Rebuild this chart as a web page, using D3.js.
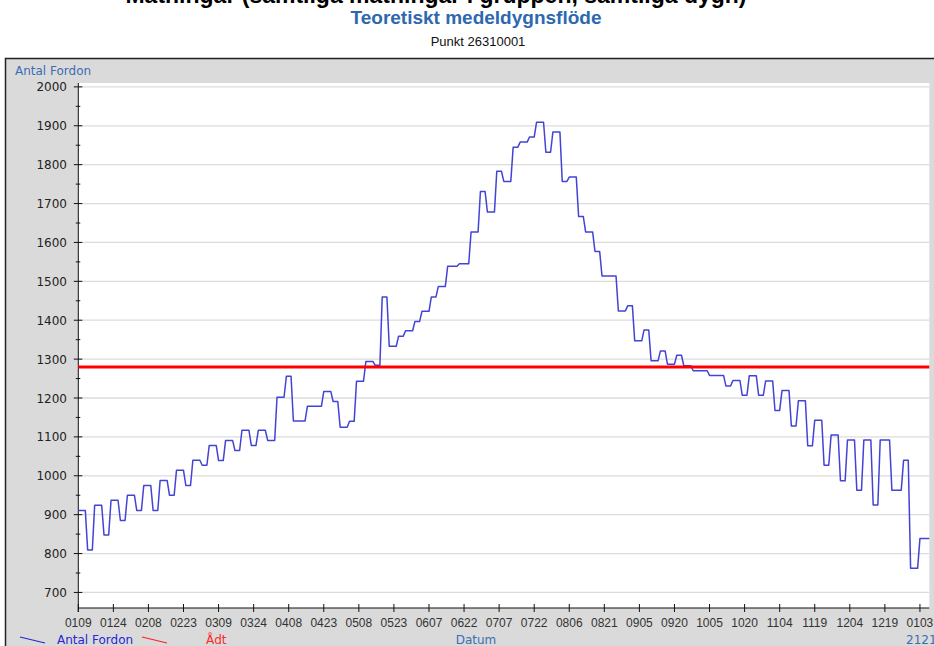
<!DOCTYPE html>
<html>
<head>
<meta charset="utf-8">
<script src="https://cdn.jsdelivr.net/npm/d3@7"></script>
<style>
  body { margin: 0; background: #fff; overflow: hidden; }
  svg { display: block; }
</style>
</head>
<body>
<svg id="chart" width="934" height="646"></svg>
<script>
// Antal Fordon per dygn, en array per månad (start 2020-01-09)
var jan = [911,911,911,911,809,809,809,924,924,924,924,848,848,848,937,937,937,937,885,885,885,950,950];
var feb = [950,950,911,911,911,975,975,975,975,911,911,911,988,988,988,988,950,950,950,1014,1014,1014,1014,975,975,975,1040,1040,1040];
var mar = [1040,1027,1027,1027,1078,1078,1078,1078,1039,1039,1039,1091,1091,1091,1091,1065,1065,1065,1117,1117,1117,1117,1078,1078,1078,1117,1117,1117,1117,1091,1091];
var apr = [1091,1091,1202,1202,1202,1202,1256,1256,1256,1141,1141,1141,1141,1141,1141,1179,1179,1179,1179,1179,1179,1179,1217,1217,1217,1217,1191,1191,1191,1125];
var may = [1125,1125,1125,1140,1140,1140,1243,1243,1243,1243,1294,1294,1294,1294,1284,1284,1284,1460,1460,1460,1333,1333,1333,1333,1359,1359,1359,1373,1373,1373,1373];
var jun = [1397,1397,1397,1423,1423,1423,1423,1460,1460,1460,1487,1487,1487,1487,1539,1539,1539,1539,1539,1545,1545,1545,1545,1545,1627,1627,1627,1627,1731,1731];
var jul = [1731,1678,1678,1678,1678,1783,1783,1783,1757,1757,1757,1757,1845,1845,1845,1858,1858,1858,1858,1871,1871,1871,1909,1909,1909,1909,1832,1832,1832,1884,1884];
var aug = [1884,1884,1757,1757,1757,1768,1768,1768,1768,1667,1667,1667,1627,1627,1627,1627,1577,1577,1577,1514,1514,1514,1514,1514,1514,1514,1424,1424,1424,1424,1437];
var sep = [1437,1437,1347,1347,1347,1347,1375,1375,1375,1296,1296,1296,1296,1321,1321,1321,1287,1287,1287,1287,1310,1310,1310,1283,1283,1283,1283,1270,1270,1270];
var oct = [1270,1270,1270,1270,1258,1258,1258,1258,1258,1258,1258,1231,1231,1231,1245,1245,1245,1245,1207,1207,1207,1257,1257,1257,1257,1207,1207,1207,1244,1244,1244];
var nov = [1244,1168,1168,1168,1219,1219,1219,1219,1128,1128,1128,1193,1193,1193,1193,1077,1077,1077,1143,1143,1143,1143,1027,1027,1027,1105,1105,1105,1105,987];
var dec = [987,987,1092,1092,1092,1092,963,963,963,1092,1092,1092,1092,925,925,925,1092,1092,1092,1092,1092,963,963,963,963,963,1040,1040,1040,762,762];
var jan21 = [762,762,839,839,839,839,839];

var adt = 1280; // Ådt
var tickDates = ["2020-01-09","2020-01-24","2020-02-08","2020-02-23","2020-03-09","2020-03-24",
  "2020-04-08","2020-04-23","2020-05-08","2020-05-23","2020-06-07","2020-06-22","2020-07-07",
  "2020-07-22","2020-08-06","2020-08-21","2020-09-05","2020-09-20","2020-10-05","2020-10-20",
  "2020-11-04","2020-11-19","2020-12-04","2020-12-19","2021-01-03"];
var yMajor = [700,800,900,1000,1100,1200,1300,1400,1500,1600,1700,1800,1900,2000];
var yMinor = [750,850,950,1050,1150,1250,1350,1450,1550,1650,1750,1850,1950];

var svg = d3.select("#chart");
var parse = d3.timeParse("%Y-%m-%d");
var start = parse("2020-01-09");

var values = d3.merge([jan, feb, mar, apr, may, jun, jul, aug, sep, oct, nov, dec, jan21]);
var series = values.map(function(v, i){ return {date: d3.timeDay.offset(start, i), value: v}; });

var pLeft = 78.3, pRight = 929.3, pTop = 83, pBottom = 608;

var x = d3.scaleTime()
    .domain([start, series[series.length - 1].date])
    .range([pLeft, pRight]);
var y = d3.scaleLinear()
    .domain([660, 2010])
    .range([pBottom, pTop]);

// rubrik ovanför (avklippt i originalet)
svg.append("text")
    .attr("x", 436).attr("y", 3)
    .attr("text-anchor", "middle")
    .style("font", "bold 23px 'Liberation Sans', Arial, sans-serif")
    .style("fill", "#000")
    .text("Mätningar (samtliga mätningar i gruppen, samtliga dygn)");

svg.append("text")
    .attr("x", 476).attr("y", 24)
    .attr("text-anchor", "middle")
    .style("font", "bold 19px 'Liberation Sans', Arial, sans-serif")
    .style("fill", "#2d68b0")
    .text("Teoretiskt medeldygnsflöde");

svg.append("text")
    .attr("x", 478).attr("y", 46)
    .attr("text-anchor", "middle")
    .style("font", "13px 'Liberation Sans', Arial, sans-serif")
    .style("fill", "#111")
    .text("Punkt 26310001");

// ram
svg.append("rect")
    .attr("x", 5.5).attr("y", 58.5)
    .attr("width", 960).attr("height", 620)
    .attr("fill", "#dadada")
    .attr("stroke", "#222")
    .attr("stroke-width", 1.5);

svg.append("rect")
    .attr("x", pLeft).attr("y", pTop)
    .attr("width", pRight - pLeft).attr("height", pBottom - pTop)
    .attr("fill", "#fff");

// rutnät
svg.append("g")
  .selectAll("line")
  .data(yMajor)
  .enter()
    .append("line")
    .attr("x1", pLeft).attr("x2", pRight)
    .attr("y1", function(d){ return y(d); })
    .attr("y2", function(d){ return y(d); })
    .attr("stroke", "#dcdcdc")
    .attr("stroke-width", 1.3);

svg.append("text")
    .attr("x", 15).attr("y", 75)
    .style("font", "12px 'DejaVu Sans', Verdana, sans-serif")
    .style("fill", "#3b6db3")
    .text("Antal Fordon");

// y-axel
var yAxis = svg.append("g");
yAxis.append("line")
    .attr("x1", pLeft).attr("x2", pLeft)
    .attr("y1", pTop).attr("y2", pBottom + 4)
    .attr("stroke", "#111");
yAxis.selectAll(".major")
  .data(yMajor)
  .enter()
    .append("line")
    .attr("x1", pLeft - 4.5).attr("x2", pLeft + 4)
    .attr("y1", function(d){ return y(d); })
    .attr("y2", function(d){ return y(d); })
    .attr("stroke", "#111");
yAxis.selectAll(".minor")
  .data(yMinor)
  .enter()
    .append("line")
    .attr("x1", pLeft - 2.5).attr("x2", pLeft + 2)
    .attr("y1", function(d){ return y(d); })
    .attr("y2", function(d){ return y(d); })
    .attr("stroke", "#111");
yAxis.selectAll("text")
  .data(yMajor)
  .enter()
    .append("text")
    .attr("x", 67)
    .attr("y", function(d){ return y(d) + 4.5; })
    .attr("text-anchor", "end")
    .style("font", "12px 'DejaVu Sans', Verdana, sans-serif")
    .style("fill", "#222")
    .text(function(d){ return d; });

// x-axel
var fmt = d3.timeFormat("%m%d");
var xAxis = svg.append("g");
xAxis.append("line")
    .attr("x1", pLeft).attr("x2", pRight)
    .attr("y1", pBottom).attr("y2", pBottom)
    .attr("stroke", "#111")
    .attr("stroke-width", 1.2);
xAxis.selectAll("line.tick")
  .data(tickDates.map(parse))
  .enter()
    .append("line")
    .attr("class", "tick")
    .attr("x1", function(d){ return x(d); })
    .attr("x2", function(d){ return x(d); })
    .attr("y1", pBottom - 4).attr("y2", pBottom + 4)
    .attr("stroke", "#111");
xAxis.selectAll("text")
  .data(tickDates.map(parse))
  .enter()
    .append("text")
    .attr("x", function(d){ return x(d); })
    .attr("y", 627)
    .attr("text-anchor", "middle")
    .style("font", "12px 'Liberation Sans', Arial, sans-serif")
    .style("fill", "#333")
    .text(function(d){ return fmt(d); });

// kurvan
var line = d3.line()
    .x(function(d){ return x(d.date); })
    .y(function(d){ return y(d.value); });
svg.append("path")
    .datum(series)
    .attr("d", line)
    .attr("fill", "none")
    .attr("stroke", "#4343d6")
    .attr("stroke-width", 1.5)
    .attr("stroke-linejoin", "round");

// Ådt
svg.append("line")
    .attr("x1", pLeft).attr("x2", pRight)
    .attr("y1", y(adt)).attr("y2", y(adt))
    .attr("stroke", "#ff0000")
    .attr("stroke-width", 3);

// förklaring
svg.append("line")
    .attr("x1", 20).attr("y1", 637).attr("x2", 45).attr("y2", 643)
    .attr("stroke", "#2424d8").attr("stroke-width", 1.2);
svg.append("text")
    .attr("x", 57).attr("y", 644)
    .style("font", "12px 'DejaVu Sans', Verdana, sans-serif")
    .style("fill", "#2626d6")
    .text("Antal Fordon");
svg.append("line")
    .attr("x1", 142).attr("y1", 637).attr("x2", 167).attr("y2", 643)
    .attr("stroke", "#ff2020").attr("stroke-width", 1.2);
svg.append("text")
    .attr("x", 206).attr("y", 644)
    .style("font", "12px 'DejaVu Sans', Verdana, sans-serif")
    .style("fill", "#ff2a2a")
    .text("Ådt");
svg.append("text")
    .attr("x", 476).attr("y", 644)
    .attr("text-anchor", "middle")
    .style("font", "12px 'DejaVu Sans', Verdana, sans-serif")
    .style("fill", "#3b6db3")
    .text("Datum");
svg.append("text")
    .attr("x", 906).attr("y", 644)
    .style("font", "12px 'DejaVu Sans', Verdana, sans-serif")
    .style("fill", "#3b6db3")
    .text("212131");
</script>
</body>
</html>
